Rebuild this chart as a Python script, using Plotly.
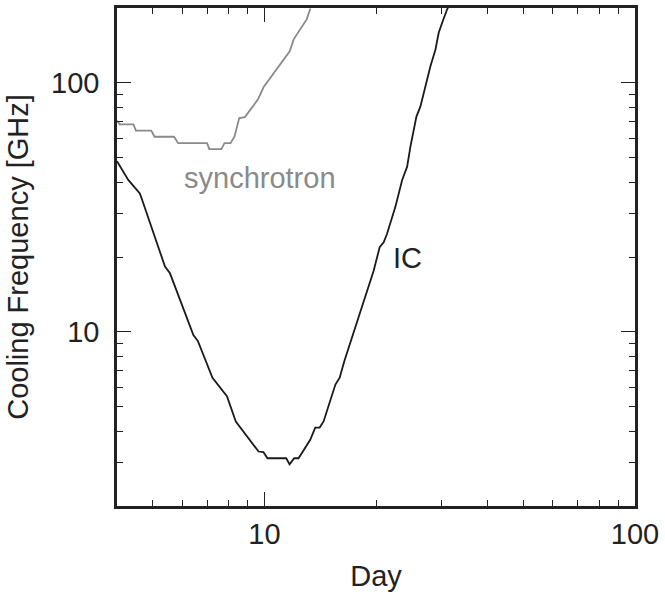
import numpy as np
import plotly.graph_objects as go

# Synchrotron cooling frequency (GHz) vs. day
sync_day = [4.0, 4.07, 4.43, 4.5, 4.95, 5.05, 5.7, 5.85, 7.0, 7.1, 7.65, 7.8,
            8.1, 8.3, 8.55, 8.85, 9.6, 9.95, 11.7, 12.0, 13.0, 13.3]
sync_freq = [70.5, 68.2, 68.2, 64.4, 64.4, 60.8, 60.8, 57.3, 57.3, 54.2, 54.2, 57.3,
             57.3, 60.8, 72.3, 72.9, 85.7, 96.3, 134, 150, 180, 199]

# Inverse-Compton cooling frequency (GHz) vs. day
ic_day = [4.0, 4.29, 4.61, 4.68, 5.39, 5.56, 6.43, 6.61, 7.24, 7.92, 8.37, 9.64,
          9.94, 10.19, 11.45, 11.69, 12.03, 12.36, 13.29, 13.71, 14.09, 14.44,
          15.54, 15.96, 16.43, 16.98, 18.52, 19.31, 19.71, 20.46, 20.98, 21.42,
          22.56, 23.52, 24.27, 24.77, 25.71, 26.36, 28.05, 28.93, 29.53, 30.17,
          31.12, 32.0]
ic_freq = [48.5, 40.8, 36.0, 33.8, 18.3, 17.2, 9.72, 9.2, 6.55, 5.52, 4.37, 3.31,
           3.29, 3.11, 3.11, 2.94, 3.11, 3.11, 3.69, 4.13, 4.13, 4.37,
           6.15, 6.55, 7.64, 8.9, 13.3, 16.1, 17.6, 21.9, 22.9, 24.8,
           31.8, 40.7, 46.1, 55.5, 73.3, 80.5, 116.7, 136, 159, 174.6,
           197.6, 215]

x_ticks = [10, 100]
y_ticks = [10, 100]

FONT = "Liberation Sans, Arial, Helvetica, sans-serif"
TXT = "#222222"

fig = go.Figure()
fig.add_trace(go.Scatter(x=sync_day, y=sync_freq, mode="lines",
                         line=dict(color="#8a8a8a", width=1.8), showlegend=False))
fig.add_trace(go.Scatter(x=ic_day, y=ic_freq, mode="lines",
                         line=dict(color="#1a1a1a", width=1.8), showlegend=False))

fig.add_annotation(x=np.log10(9.74), y=np.log10(41.5), text="synchrotron",
                   showarrow=False, font=dict(family=FONT, size=29, color="#8a8a8a"))
fig.add_annotation(x=np.log10(24.3), y=np.log10(19.8), text="IC",
                   showarrow=False, font=dict(family=FONT, size=29, color=TXT))

axis_common = dict(
    type="log", showline=True, linecolor="#222222", linewidth=2.5, mirror="ticks",
    ticks="inside", ticklen=14, tickwidth=1.2, tickcolor="#222222",
    showgrid=False, zeroline=False,
    tickfont=dict(family=FONT, size=29, color=TXT),
    minor=dict(ticks="inside", ticklen=6, tickwidth=1.2, tickcolor="#222222",
               dtick="D1", showgrid=False),
)

fig.update_xaxes(range=[np.log10(4), 2], tickvals=x_ticks, ticktext=[str(v) for v in x_ticks],
                 ticklabelstandoff=0,
                 title=dict(text="Day", font=dict(family=FONT, size=29, color=TXT), standoff=18),
                 **axis_common)
fig.update_yaxes(range=[np.log10(2), np.log10(200)], tickvals=y_ticks,
                 ticktext=[str(v) for v in y_ticks], ticklabelstandoff=9,
                 title=dict(text="Cooling Frequency [GHz]",
                            font=dict(family=FONT, size=29, color=TXT), standoff=14),
                 **axis_common)

fig.update_layout(
    width=665, height=597,
    margin=dict(l=117, r=30, t=8, b=91, autoexpand=False),
    plot_bgcolor="white", paper_bgcolor="white",
)

fig.write_html("out.html")
